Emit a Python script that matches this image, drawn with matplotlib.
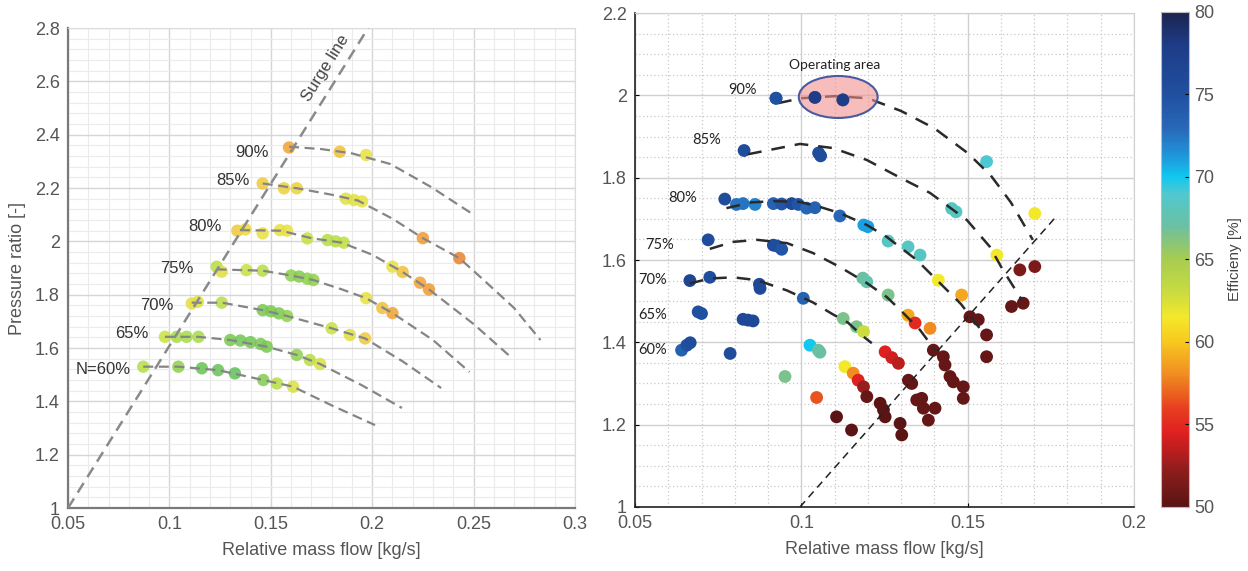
import numpy as np
import matplotlib
matplotlib.use("Agg")
import matplotlib.pyplot as plt
from matplotlib.colors import LinearSegmentedColormap, Normalize
from matplotlib.patches import Ellipse
from matplotlib.ticker import MultipleLocator

plt.rcParams['font.family'] = ['Liberation Sans', 'DejaVu Sans']

# ---------------- left map: measured points ----------------
left_mflow = [0.159, 0.184, 0.197,
              0.146, 0.1565, 0.1628, 0.187, 0.191, 0.195, 0.225, 0.243,
              0.1335, 0.1375, 0.146, 0.1545, 0.158, 0.168, 0.178, 0.182, 0.186, 0.210, 0.215, 0.2236, 0.228,
              0.1233, 0.1258, 0.138, 0.146, 0.160, 0.164, 0.168, 0.171, 0.197, 0.205, 0.210,
              0.111, 0.114, 0.1258, 0.146, 0.150, 0.154, 0.158, 0.180, 0.189, 0.1965,
              0.0978, 0.1036, 0.1085, 0.1143, 0.130, 0.135, 0.140, 0.145, 0.148, 0.1628, 0.1693, 0.1743,
              0.0871, 0.1044, 0.116, 0.124, 0.1323, 0.1463, 0.153, 0.161]
left_pr = [2.352, 2.336, 2.324,
           2.217, 2.199, 2.199, 2.160, 2.155, 2.150, 2.012, 1.937,
           2.040, 2.045, 2.030, 2.042, 2.040, 2.011, 2.005, 2.000, 1.995, 1.905, 1.885, 1.845, 1.820,
           1.905, 1.886, 1.892, 1.890, 1.872, 1.868, 1.860, 1.855, 1.787, 1.750, 1.731,
           1.767, 1.773, 1.770, 1.742, 1.738, 1.730, 1.720, 1.674, 1.649, 1.636,
           1.642, 1.642, 1.642, 1.642, 1.630, 1.628, 1.622, 1.615, 1.605, 1.574, 1.555, 1.540,
           1.530, 1.530, 1.524, 1.517, 1.505, 1.480, 1.467, 1.455]
left_eff = [62.5, 64, 66,
            64.5, 65, 65, 66.5, 66.5, 66, 62, 61,
            64.5, 65.5, 66, 66, 66, 68, 69, 69, 68.5, 66, 64, 62.5, 62,
            69, 66.5, 68, 69, 71, 71.5, 71, 71, 66, 64, 62.5,
            66.5, 66.5, 69, 72, 72, 72, 71, 68, 66.5, 64.5,
            68, 70, 70, 70, 72, 72.5, 72.5, 72, 72, 71, 69, 67,
            69, 71, 73, 73, 73.5, 71.5, 69, 67]

# left speed lines
lc90_x = [0.159, 0.175, 0.190, 0.209, 0.229, 0.250]
lc90_y = [2.355, 2.346, 2.330, 2.290, 2.204, 2.100]
lc85_x = [0.146, 0.163, 0.180, 0.193, 0.210, 0.225, 0.243, 0.255, 0.270, 0.283]
lc85_y = [2.217, 2.199, 2.175, 2.153, 2.085, 2.012, 1.937, 1.855, 1.750, 1.630]
lc80_x = [0.1348, 0.155, 0.170, 0.185, 0.200, 0.215, 0.228, 0.250, 0.269]
lc80_y = [2.042, 2.040, 2.012, 1.995, 1.950, 1.885, 1.820, 1.690, 1.562]
lc75_x = [0.1233, 0.146, 0.160, 0.171, 0.185, 0.197, 0.210, 0.230, 0.248]
lc75_y = [1.895, 1.890, 1.872, 1.855, 1.820, 1.787, 1.731, 1.630, 1.510]
lc70_x = [0.111, 0.126, 0.146, 0.158, 0.170, 0.180, 0.1965, 0.215, 0.234]
lc70_y = [1.770, 1.770, 1.742, 1.720, 1.695, 1.674, 1.636, 1.550, 1.450]
lc65_x = [0.0978, 0.1143, 0.130, 0.148, 0.1628, 0.1743, 0.195, 0.2147]
lc65_y = [1.642, 1.642, 1.630, 1.605, 1.574, 1.540, 1.460, 1.375]
lc60_x = [0.0871, 0.1044, 0.124, 0.1463, 0.161, 0.180, 0.2014]
lc60_y = [1.530, 1.530, 1.517, 1.480, 1.455, 1.385, 1.311]
left_surge_x = [0.05, 0.198]
left_surge_y = [1.0, 2.8]

left_labels = ["90%", "85%", "80%", "75%", "70%", "65%", "N=60%"]
left_label_x = [0.1408, 0.1314, 0.1176, 0.1037, 0.0939, 0.0816, 0.0674]
left_label_y = [2.334, 2.230, 2.054, 1.900, 1.761, 1.656, 1.520]

# ---------------- right map: measured points ----------------
right_mflow = [0.0924, 0.1041, 0.1125, 0.0828, 0.1052, 0.1058,
               0.0770, 0.0805, 0.0825, 0.0861, 0.0916, 0.0941, 0.0971, 0.0991, 0.1016, 0.1041,
               0.1116, 0.1188, 0.1200, 0.1261, 0.1321, 0.1357, 0.1452, 0.1465, 0.1557, 0.1702,
               0.1588, 0.1412, 0.1482,
               0.0720, 0.0916, 0.0927, 0.0941, 0.1185, 0.1197, 0.1261,
               0.0665, 0.0725, 0.0874, 0.0876, 0.1006,
               0.0690, 0.0700, 0.0825, 0.0840, 0.0855, 0.1126, 0.1166, 0.1187,
               0.0640, 0.0656, 0.0666, 0.0786, 0.1026, 0.1051, 0.1056, 0.0951, 0.1046,
               0.1131, 0.1156, 0.1171, 0.1187, 0.1197, 0.1237, 0.1247, 0.1252, 0.1106, 0.1151,
               0.1297, 0.1302, 0.1252, 0.1272, 0.1292, 0.1322, 0.1332, 0.1321, 0.1342, 0.1387,
               0.1397, 0.1427, 0.1432, 0.1447, 0.1457, 0.1487, 0.1487, 0.1347, 0.1362, 0.1367,
               0.1402, 0.1382, 0.1507, 0.1532, 0.1557, 0.1557, 0.1657, 0.1702, 0.1632, 0.1667]
right_pr = [1.993, 1.995, 1.989, 1.866, 1.860, 1.853,
            1.748, 1.735, 1.737, 1.735, 1.737, 1.736, 1.737, 1.735, 1.726, 1.727,
            1.707, 1.685, 1.681, 1.646, 1.632, 1.612, 1.725, 1.717, 1.839, 1.713,
            1.612, 1.551, 1.515,
            1.649, 1.636, 1.634, 1.626, 1.556, 1.547, 1.515,
            1.550, 1.558, 1.541, 1.531, 1.507,
            1.474, 1.470, 1.456, 1.454, 1.452, 1.458, 1.438, 1.426,
            1.381, 1.393, 1.399, 1.373, 1.393, 1.381, 1.376, 1.317, 1.266,
            1.341, 1.325, 1.308, 1.292, 1.268, 1.252, 1.236, 1.219, 1.219, 1.187,
            1.203, 1.175, 1.377, 1.363, 1.349, 1.308, 1.300, 1.466, 1.447, 1.434,
            1.381, 1.365, 1.345, 1.317, 1.304, 1.292, 1.264, 1.260, 1.264, 1.240,
            1.240, 1.211, 1.462, 1.455, 1.418, 1.365, 1.576, 1.584, 1.487, 1.495]
right_eff = [75, 78, 78, 75.5, 75.5, 75.5,
             75.5, 72.5, 72.5, 72, 73.5, 74.5, 76, 74.5, 73, 73.5,
             73, 71, 71, 68.5, 68.5, 68.5, 68.5, 68.5, 69, 61.5,
             61.5, 61.5, 59,
             75.5, 75.5, 75.5, 74.5, 67, 67.5, 66.5,
             76.5, 75.5, 76, 76, 73.5,
             75, 75, 76, 76, 76, 66.5, 66.5, 63,
             73.5, 75, 75.5, 75.5, 70, 67.5, 67, 66.5, 56.5,
             61.5, 58, 54.5, 52.5, 50.5, 50, 50, 50, 50, 50,
             50, 50, 54.5, 54, 53.5, 50.5, 50.5, 59, 55, 58,
             50.5, 50.5, 50.5, 50.5, 50.5, 50.5, 50.5, 50.5, 50.5, 50.5,
             50.5, 50.5, 50.5, 50.5, 50.5, 50.5, 51.5, 51.5, 50.5, 50.5]

# right speed lines
rc90_x = [0.093, 0.100, 0.110, 0.120, 0.130, 0.140, 0.150, 0.157, 0.163, 0.1696]
rc90_y = [1.981, 1.993, 1.998, 1.993, 1.962, 1.920, 1.860, 1.805, 1.740, 1.649]
rc85_x = [0.0840, 0.0996, 0.1095, 0.1197, 0.1297, 0.1387, 0.1498, 0.1567, 0.1606, 0.1663]
rc85_y = [1.857, 1.882, 1.872, 1.843, 1.800, 1.763, 1.697, 1.632, 1.576, 1.503]
rc80_x = [0.0775, 0.085, 0.092, 0.0996, 0.1056, 0.1116, 0.1197, 0.1257, 0.1347, 0.1408, 0.148, 0.155]
rc80_y = [1.726, 1.740, 1.743, 1.741, 1.729, 1.714, 1.685, 1.656, 1.600, 1.551, 1.493, 1.420]
rc75_x = [0.0725, 0.0795, 0.0867, 0.0957, 0.1035, 0.1116, 0.1197, 0.1257, 0.1297, 0.1357, 0.1402]
rc75_y = [1.627, 1.644, 1.649, 1.641, 1.617, 1.583, 1.544, 1.510, 1.479, 1.430, 1.381]
rc70_x = [0.0665, 0.0725, 0.0795, 0.0867, 0.0957, 0.1035, 0.1095, 0.114, 0.1185, 0.1212]
rc70_y = [1.543, 1.555, 1.558, 1.551, 1.526, 1.497, 1.468, 1.448, 1.415, 1.398]
right_surge_x = [0.0996, 0.177]
right_surge_y = [1.0, 1.709]

right_labels = ["90%", "85%", "80%", "75%", "70%", "65%", "60%"]
right_label_x = [0.0822, 0.0716, 0.0644, 0.0575, 0.0554, 0.0554, 0.0554]
right_label_y = [2.013, 1.891, 1.750, 1.636, 1.551, 1.466, 1.381]

# colour maps
left_cmap = LinearSegmentedColormap.from_list("left", [
    (0.0, "#e06a28"), (2/14, "#f09a30"), (4/14, "#f0c038"), (6/14, "#e8e040"),
    (8/14, "#c8e040"), (10/14, "#a6da48"), (12/14, "#78c850"), (1.0, "#58bc5a")])
eff_cmap = LinearSegmentedColormap.from_list("eff", [
    (0/30, "#5a1414"), (2/30, "#8a1c1c"), (4.5/30, "#e02020"), (6/30, "#e84020"),
    (8/30, "#f08c20"), (10/30, "#f8c820"), (11.5/30, "#f5e82a"), (13/30, "#c8dc40"),
    (15/30, "#a8cc50"), (17/30, "#6cc0a0"), (19/30, "#50c8d0"), (20/30, "#10c8f0"),
    (21.5/30, "#2090d8"), (23/30, "#2868b8"), (25/30, "#2050a0"), (28/30, "#1e3c88"),
    (30/30, "#1c2450")])

fig = plt.figure(figsize=(12.48, 5.71), dpi=100)

# ================= left panel =================
ax1 = fig.add_axes([0.0545, 0.1103, 0.4062, 0.8406])
ax1.set_xlim(0.05, 0.3)
ax1.set_ylim(1.0, 2.8)
ax1.xaxis.set_major_locator(MultipleLocator(0.05))
ax1.xaxis.set_minor_locator(MultipleLocator(0.01))
ax1.yaxis.set_major_locator(MultipleLocator(0.2))
ax1.yaxis.set_minor_locator(MultipleLocator(0.04))
ax1.set_axisbelow(True)
ax1.grid(which='major', color='#d6d6d6', lw=1.0)
ax1.grid(which='minor', color='#ebebeb', lw=0.8)
ax1.tick_params(which='both', length=0, labelsize=13, labelcolor='#555555', pad=6)
ax1.set_xticks([0.05, 0.1, 0.15, 0.2, 0.25, 0.3])
ax1.set_xticklabels(["0.05", "0.1", "0.15", "0.2", "0.25", "0.3"])
ax1.set_yticks([1, 1.2, 1.4, 1.6, 1.8, 2, 2.2, 2.4, 2.6, 2.8])
ax1.set_yticklabels(["1", "1.2", "1.4", "1.6", "1.8", "2", "2.2", "2.4", "2.6", "2.8"])
for side in ['left', 'bottom']:
    ax1.spines[side].set_color('#7a7a7a')
    ax1.spines[side].set_linewidth(1.6)
for side in ['top', 'right']:
    ax1.spines[side].set_color('#dcdcdc')
ax1.set_xlabel("Relative mass flow [kg/s]", fontsize=13, color='#555555', labelpad=6)
ax1.set_ylabel("Pressure ratio [-]", fontsize=13, color='#555555', labelpad=6)

ax1.scatter(left_mflow, left_pr, c=left_eff, cmap=left_cmap, vmin=60, vmax=74,
            s=80, alpha=0.85, edgecolors='none', zorder=3)
for xs, ys in [(lc90_x, lc90_y), (lc85_x, lc85_y), (lc80_x, lc80_y), (lc75_x, lc75_y),
               (lc70_x, lc70_y), (lc65_x, lc65_y), (lc60_x, lc60_y)]:
    ax1.plot(xs, ys, color='#858585', lw=1.6, ls=(0, (4.5, 2.5)), zorder=4)
ax1.plot(left_surge_x, left_surge_y, color='#8a8a8a', lw=1.8, ls=(0, (4.5, 2.8)), zorder=4)
ax1.text(0.177, 2.65, "Surge line", rotation=58, fontsize=12, color='#444444',
         ha='center', va='center')
for lab, lx, ly in zip(left_labels, left_label_x, left_label_y):
    ax1.text(lx, ly, lab, fontsize=12, color='#333333', ha='center', va='center')

# ================= right panel =================
ax2 = fig.add_axes([0.5088, 0.1121, 0.3998, 0.8651])
ax2.set_xlim(0.05, 0.2)
ax2.set_ylim(1.0, 2.2)
ax2.xaxis.set_major_locator(MultipleLocator(0.05))
ax2.xaxis.set_minor_locator(MultipleLocator(0.01))
ax2.yaxis.set_major_locator(MultipleLocator(0.2))
ax2.yaxis.set_minor_locator(MultipleLocator(0.05))
ax2.set_axisbelow(True)
ax2.grid(which='major', color='#d0d0d0', lw=1.0)
ax2.grid(which='minor', color='#c8c8c8', lw=0.9, ls=(0, (1, 2)))
ax2.tick_params(which='major', direction='in', length=3, labelsize=13,
                labelcolor='#555555', pad=6)
ax2.tick_params(which='minor', length=0)
ax2.set_xticks([0.05, 0.1, 0.15, 0.2])
ax2.set_xticklabels(["0.05", "0.1", "0.15", "0.2"])
ax2.set_yticks([1, 1.2, 1.4, 1.6, 1.8, 2, 2.2])
ax2.set_yticklabels(["1", "1.2", "1.4", "1.6", "1.8", "2", "2.2"])
for side in ['left', 'bottom']:
    ax2.spines[side].set_color('#222222')
    ax2.spines[side].set_linewidth(1.2)
for side in ['top', 'right']:
    ax2.spines[side].set_color('#d0d0d0')
ax2.set_xlabel("Relative mass flow [kg/s]", fontsize=13, color='#555555', labelpad=6)

norm = Normalize(vmin=50, vmax=80)
sc = ax2.scatter(right_mflow, right_pr, c=right_eff, cmap=eff_cmap, norm=norm,
                 s=85, edgecolors='none', zorder=5)
for xs, ys in [(rc90_x, rc90_y), (rc85_x, rc85_y), (rc80_x, rc80_y),
               (rc75_x, rc75_y), (rc70_x, rc70_y)]:
    ax2.plot(xs, ys, color='#2a2a2a', lw=1.8, ls=(0, (5.5, 4)), zorder=6)
ax2.plot(right_surge_x, right_surge_y, color='#222222', lw=1.1, ls=(0, (5, 3.5)), zorder=6)

ax2.add_patch(Ellipse((0.1111, 1.996), 0.0237, 0.102, facecolor='#f29090', alpha=0.6,
                      edgecolor='none', zorder=7))
ax2.add_patch(Ellipse((0.1111, 1.996), 0.0237, 0.102, facecolor='none',
                      edgecolor='#4a5aa0', lw=1.5, zorder=8))
ax2.scatter(right_mflow[:3], right_pr[:3], c=right_eff[:3], cmap=eff_cmap, norm=norm,
            s=85, edgecolors='none', zorder=9)
ax2.text(0.1101, 2.074, "Operating area", fontsize=10, family=['Lato', 'DejaVu Sans'],
         ha='center', va='center', color='#222222')
for lab, lx, ly in zip(right_labels, right_label_x, right_label_y):
    ax2.text(lx, ly, lab, fontsize=10.5, family=['Lato', 'DejaVu Sans'],
             ha='center', va='center', color='#222222', zorder=10)

# colour bar
cax = fig.add_axes([0.9303, 0.1121, 0.0224, 0.8669])
cb = fig.colorbar(sc, cax=cax)
cb.set_ticks([50, 55, 60, 65, 70, 75, 80])
cb.ax.tick_params(labelsize=13, labelcolor='#555555', length=3, direction='in')
cb.outline.set_edgecolor('#bbbbbb')
cb.set_label("Efficieny [%]", fontsize=11, color='#444444', labelpad=10)

fig.savefig("out.png", dpi=100)
